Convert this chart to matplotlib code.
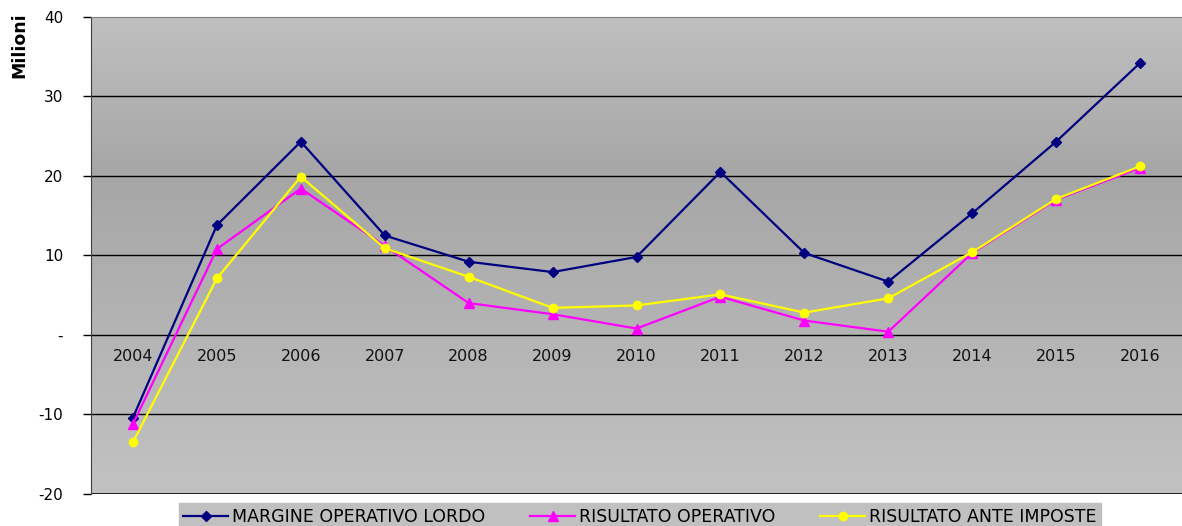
import numpy as np
import matplotlib.pyplot as plt
from matplotlib.colors import LinearSegmentedColormap

plt.rcParams['font.family'] = ['DejaVu Sans']

years = ['2004', '2005', '2006', '2007', '2008', '2009', '2010',
         '2011', '2012', '2013', '2014', '2015', '2016']
mol = [-10.4, 13.8, 24.3, 12.5, 9.2, 7.9, 9.8, 20.5, 10.3, 6.7, 15.3, 24.3, 34.2]
ro = [-11.2, 10.8, 18.4, 11.2, 4.0, 2.6, 0.8, 4.8, 1.8, 0.4, 10.3, 17.0, 21.0]
rai = [-13.5, 7.1, 19.9, 10.9, 7.3, 3.4, 3.7, 5.1, 2.8, 4.6, 10.4, 17.1, 21.2]

y_ticks = [-20, -10, 0, 10, 20, 30, 40]
y_labels = ['-20', '-10', '-', '10', '20', '30', '40']


def main():
    fig = plt.figure(figsize=(11.82, 5.26), dpi=100)
    ax = fig.add_axes([0.077, 0.061, 0.923, 0.907])

    x = np.arange(len(years))
    ax.set_xlim(-0.5, len(years) - 0.5)

    # gray gradient background: light at top, darker around zero, lighter at bottom
    cmap = LinearSegmentedColormap.from_list(
        'bg', [(0.0, '#c2c2c2'), (0.67, '#a6a6a6'), (1.0, '#c0c0c0')])
    grad = np.linspace(0, 1, 256).reshape(-1, 1)
    ax.imshow(grad, cmap=cmap, aspect='auto', extent=(-0.5, len(years) - 0.5, 40, -20),
              origin='upper', zorder=0, vmin=0, vmax=1)
    ax.set_ylim(-20, 40)

    for yv in [-10, 0, 10, 20, 30]:
        ax.axhline(yv, color='black', lw=1.0, zorder=1)

    ax.plot(x, mol, color='#000080', lw=1.6, marker='D', ms=5,
            label='MARGINE OPERATIVO LORDO', zorder=3)
    ax.plot(x, ro, color='#ff00ff', lw=1.6, marker='^', ms=7,
            label='RISULTATO OPERATIVO', zorder=4)
    ax.plot(x, rai, color='#ffff00', lw=1.6, marker='o', ms=6,
            label='RISULTATO ANTE IMPOSTE', zorder=5)

    ax.set_yticks(y_ticks)
    ax.set_yticklabels(y_labels, fontsize=11)
    ax.tick_params(axis='y', length=6, width=1, color='black', pad=14)

    ax.spines['bottom'].set_position(('data', 0))
    ax.spines['bottom'].set_visible(False)
    ax.set_xticks(x)
    ax.set_xticklabels(years, fontsize=11.5, color='#111111')
    ax.tick_params(axis='x', length=0, pad=10)

    ax.spines['right'].set_visible(False)
    ax.spines['top'].set_color('#808080')
    ax.spines['left'].set_color('#404040')
    ax.axhline(-20, color='black', lw=1.2, zorder=2)

    fig.text(0.016, 0.915, 'Milioni', rotation=90, fontsize=12.5,
             fontweight='bold', ha='center', va='center')

    leg = fig.legend(loc='lower left', bbox_to_anchor=(0.144, -0.024), ncol=3,
                     fontsize=12.5, frameon=True, fancybox=False,
                     handlelength=2.6, handletextpad=0.2, columnspacing=2.6,
                     borderpad=0.25)
    leg.get_frame().set_facecolor('#c0c0c0')
    leg.get_frame().set_edgecolor('#c0c0c0')
    leg.get_frame().set_alpha(1)

    fig.savefig('out.png', dpi=100)


if __name__ == '__main__':
    main()
